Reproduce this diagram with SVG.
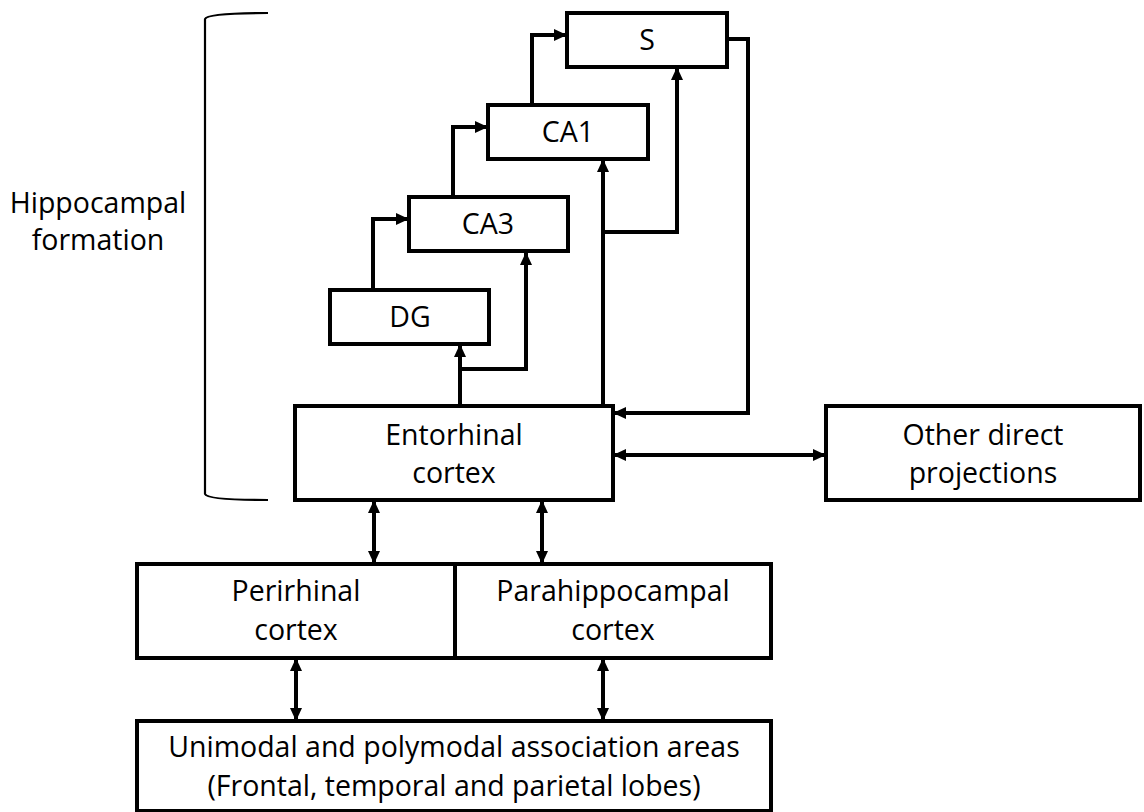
<svg xmlns="http://www.w3.org/2000/svg" width="1144" height="812" viewBox="0 0 1144 812">
<style>
.box{fill:#fff;stroke:#000;stroke-width:4}
.lbl{font-family:"Open Sans","Liberation Sans",sans-serif;font-size:28.5px;fill:#000;text-anchor:middle}
.con{fill:none;stroke:#000;stroke-width:4}
.br{fill:none;stroke:#000;stroke-width:2.2}
</style>
<defs>
<marker id="ah" viewBox="0 0 13 12" refX="12" refY="6" markerWidth="13" markerHeight="12" markerUnits="userSpaceOnUse" orient="auto-start-reverse">
<path d="M0,0 L13,6 L0,12 z" fill="#000"/>
</marker>
</defs>
<rect width="1144" height="812" fill="#fff"/>
<g id="bracket">
<path class="br" d="M268,13 Q207,13 205,19 V494 Q207,500 268,500"/>
<text class="lbl" x="98" y="213">Hippocampal</text>
<text class="lbl" x="98" y="250">formation</text>
</g>
<g id="connectors">
<path class="con" d="M373,290 V219 H408" marker-end="url(#ah)"/>
<path class="con" d="M453,197 V127 H487" marker-end="url(#ah)"/>
<path class="con" d="M532,105 V35 H566" marker-end="url(#ah)"/>
<path class="con" d="M460,405 V345" marker-end="url(#ah)"/>
<path class="con" d="M460,369 H526 V253" marker-end="url(#ah)"/>
<path class="con" d="M603,405 V160" marker-end="url(#ah)"/>
<path class="con" d="M603,232 H677 V68" marker-end="url(#ah)"/>
<path class="con" d="M728,39 H748 V413 H614" marker-end="url(#ah)"/>
<path class="con" d="M614,455 H825" marker-start="url(#ah)" marker-end="url(#ah)"/>
<path class="con" d="M374,501 V563" marker-start="url(#ah)" marker-end="url(#ah)"/>
<path class="con" d="M542,501 V563" marker-start="url(#ah)" marker-end="url(#ah)"/>
<path class="con" d="M296,659 V720" marker-start="url(#ah)" marker-end="url(#ah)"/>
<path class="con" d="M603,659 V720" marker-start="url(#ah)" marker-end="url(#ah)"/>
</g>
<g id="S">
<rect class="box" x="567" y="13" width="160" height="54"/>
<text class="lbl" x="647" y="50">S</text>
</g>
<g id="CA1">
<rect class="box" x="488" y="105" width="160" height="54"/>
<text class="lbl" x="568" y="142">CA1</text>
</g>
<g id="CA3">
<rect class="box" x="409" y="197" width="159" height="54"/>
<text class="lbl" x="488" y="234">CA3</text>
</g>
<g id="DG">
<rect class="box" x="330" y="290" width="159" height="54"/>
<text class="lbl" x="410" y="327">DG</text>
</g>
<g id="entorhinal">
<rect class="box" x="295" y="406" width="318" height="94"/>
<text class="lbl" x="454" y="445">Entorhinal</text>
<text class="lbl" x="454" y="483">cortex</text>
</g>
<g id="other">
<rect class="box" x="826" y="406" width="314" height="94"/>
<text class="lbl" x="983" y="445">Other direct</text>
<text class="lbl" x="983" y="483">projections</text>
</g>
<g id="perirhinal">
<rect class="box" x="137" y="564" width="318" height="94"/>
<text class="lbl" x="296" y="601">Perirhinal</text>
<text class="lbl" x="296" y="640">cortex</text>
</g>
<g id="parahippocampal">
<rect class="box" x="455" y="564" width="316" height="94"/>
<text class="lbl" x="613" y="601">Parahippocampal</text>
<text class="lbl" x="613" y="640">cortex</text>
</g>
<g id="association">
<rect class="box" x="137" y="721" width="634" height="90"/>
<text class="lbl" x="454" y="757">Unimodal and polymodal association areas</text>
<text class="lbl" x="454" y="796">(Frontal, temporal and parietal lobes)</text>
</g>
</svg>
